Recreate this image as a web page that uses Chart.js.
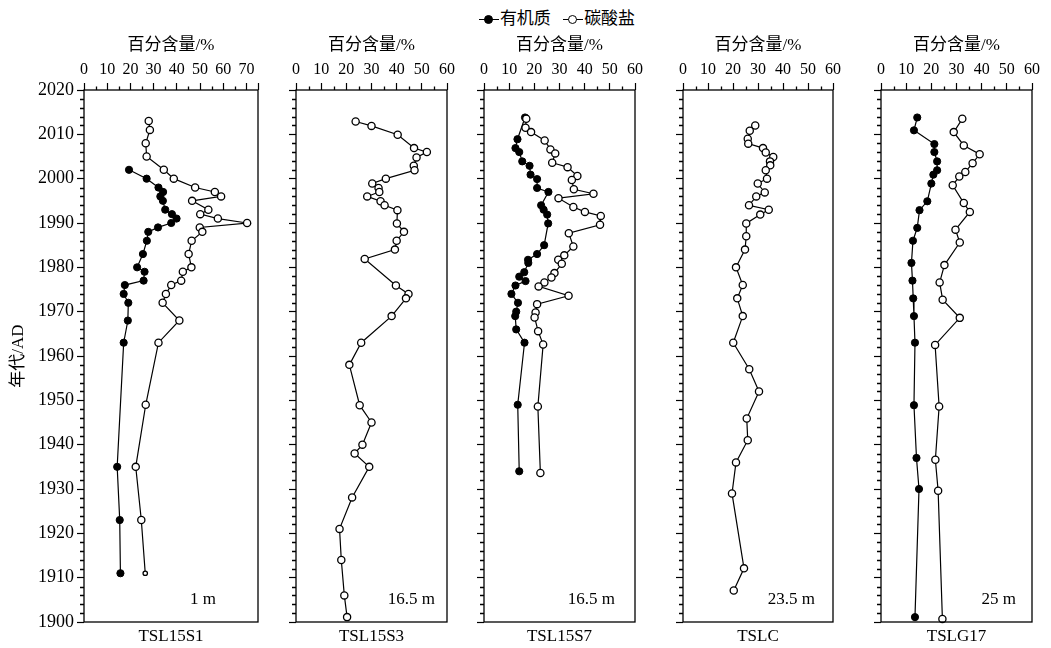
<!DOCTYPE html>
<html>
<head>
<meta charset="utf-8">
<script src="https://cdn.jsdelivr.net/npm/chart.js@4.4.0/dist/chart.umd.min.js"></script>
<style>
  body { margin: 0; background: #fff; width: 1051px; height: 648px; overflow: hidden; position: relative;
         font-family: "Liberation Serif", "Noto Sans CJK SC", serif; }
  canvas { position: absolute; top: 0; }
  #legend { position: absolute; top: 4px; left: 0; width: 1114px; text-align: center; font-size: 17px; color: #000; }
  #legend .item { margin: 0 4px; white-space: nowrap; }
  .mk { display: inline-block; position: relative; width: 20px; height: 10px; vertical-align: middle; margin-right: 1px; }
  .mk::before { content: ""; position: absolute; left: 0; right: 0; top: 4px; border-top: 1.5px solid #000; }
  .mk::after { content: ""; position: absolute; left: 5px; top: 0; width: 7px; height: 7px; border-radius: 50%;
               border: 1.3px solid #000; background: #000; }
  .mk.open::after { background: #fff; }
</style>
</head>
<body>
<div id="legend"><span class="item"><span class="mk"></span>有机质</span> <span class="item"><span class="mk open"></span>碳酸盐</span></div>
<canvas id="c0"></canvas>
<canvas id="c1"></canvas>
<canvas id="c2"></canvas>
<canvas id="c3"></canvas>
<canvas id="c4"></canvas>
<script>
// 数据 (年代 / 百分含量)
const names = ['TSL15S1', 'TSL15S3', 'TSL15S7', 'TSLC', 'TSLG17'];
const depths = ['1 m', '16.5 m', '16.5 m', '23.5 m', '25 m'];
const xMaxes = [75, 60, 60, 60, 60];
const yearTicks = [1900, 1910, 1920, 1930, 1940, 1950, 1960, 1970, 1980, 1990, 2000, 2010, 2020];

const s1OrgYear = [2002, 2000, 1998, 1997, 1996, 1995, 1993, 1992, 1991, 1990, 1989, 1988, 1986, 1983, 1980, 1979, 1977, 1976, 1974, 1972, 1968, 1963, 1935, 1923, 1911];
const s1Org = [19.4, 27.0, 32.1, 34.1, 32.9, 34.0, 35.0, 37.9, 39.9, 37.6, 31.9, 27.7, 27.1, 25.4, 22.9, 26.1, 25.7, 17.6, 17.1, 19.1, 18.9, 17.1, 14.3, 15.4, 15.7];
const s1CarbYear = [2013, 2011, 2008, 2005, 2002, 2000, 1998, 1997, 1996, 1995, 1993, 1992, 1991, 1990, 1989, 1988, 1986, 1983, 1980, 1979, 1977, 1976, 1974, 1972, 1968, 1963, 1949, 1935, 1923, 1911];
const s1Carb = [27.9, 28.4, 26.6, 27.0, 34.4, 38.7, 47.9, 56.4, 59.1, 46.6, 53.6, 50.1, 57.7, 70.3, 49.9, 51.0, 46.4, 45.1, 46.3, 42.6, 41.9, 37.6, 35.3, 33.9, 41.1, 32.1, 26.6, 22.3, 24.7, 26.4];

const s3CarbYear = [2012.9, 2011.9, 2009.9, 2006.9, 2006.0, 2004.8, 2002.9, 2001.9, 2000.0, 1998.9, 1997.9, 1997.0, 1996.0, 1994.9, 1994.0, 1992.9, 1989.9, 1988.0, 1986.0, 1984.0, 1981.9, 1975.9, 1974.0, 1973.0, 1969.0, 1963.0, 1958.0, 1948.9, 1945.0, 1940.0, 1938.0, 1935.0, 1928.1, 1921.0, 1914.0, 1906.0, 1901.1];
const s3Carb = [23.7, 30.0, 40.4, 46.9, 52.0, 47.9, 46.8, 47.1, 35.7, 30.3, 32.8, 33.1, 28.3, 33.6, 35.2, 40.3, 40.1, 42.9, 40.0, 39.3, 27.3, 39.7, 44.7, 43.7, 38.0, 25.9, 21.2, 25.3, 30.0, 26.4, 23.3, 29.1, 22.3, 17.3, 18.0, 19.2, 20.3];

const s7OrgYear = [2013.8, 2008.9, 2006.9, 2006.0, 2003.9, 2002.9, 2000.9, 1999.9, 1997.9, 1997.0, 1994.0, 1993.0, 1991.9, 1989.9, 1985.0, 1983.0, 1981.7, 1981.0, 1978.9, 1977.9, 1976.9, 1975.9, 1974.0, 1972.0, 1970.0, 1969.0, 1966.0, 1963.0, 1949.0, 1934.0];
const s7Org = [16.3, 13.3, 12.5, 14.0, 15.2, 18.1, 18.5, 21.1, 21.1, 25.6, 22.7, 23.7, 25.1, 25.5, 23.9, 21.1, 17.5, 17.6, 16.0, 14.0, 16.5, 12.5, 10.9, 13.5, 12.8, 12.4, 12.8, 16.1, 13.4, 14.0];
const s7CarbYear = [2013.5, 2011.5, 2010.5, 2008.6, 2006.6, 2005.7, 2003.6, 2002.6, 2000.6, 1999.7, 1997.6, 1996.6, 1995.6, 1993.6, 1992.5, 1991.6, 1989.6, 1987.7, 1984.7, 1982.7, 1981.7, 1980.8, 1978.7, 1977.7, 1976.6, 1975.7, 1973.6, 1971.7, 1969.8, 1968.7, 1965.6, 1962.6, 1948.6, 1933.6];
const s7Carb = [16.8, 16.5, 18.7, 24.1, 26.4, 28.3, 27.1, 33.2, 37.1, 34.9, 35.7, 43.5, 29.6, 35.5, 40.1, 46.4, 46.1, 33.7, 35.5, 31.9, 29.5, 30.9, 28.0, 26.8, 24.0, 21.7, 33.6, 21.1, 20.5, 20.1, 21.5, 23.5, 21.4, 22.4];

const cCarbYear = [2012.0, 2010.8, 2009.0, 2007.9, 2006.9, 2005.9, 2004.9, 2003.9, 2003.0, 2001.9, 2000.0, 1998.9, 1996.9, 1996.0, 1994.0, 1993.0, 1991.9, 1989.9, 1987.0, 1984.0, 1980.0, 1976.0, 1973.0, 1969.0, 1963.0, 1957.0, 1952.0, 1945.9, 1941.0, 1936.0, 1929.0, 1912.1, 1907.1];
const cCarb = [28.9, 26.7, 25.9, 26.1, 32.0, 33.1, 36.1, 34.8, 34.9, 33.1, 33.6, 29.9, 32.7, 29.3, 26.4, 34.3, 30.9, 25.3, 25.3, 24.8, 21.2, 23.9, 21.7, 23.9, 20.1, 26.5, 30.4, 25.5, 25.9, 21.2, 19.6, 24.4, 20.3];

const g17OrgYear = [2013.8, 2010.9, 2007.8, 2006.0, 2003.9, 2001.9, 2000.9, 1998.9, 1994.9, 1992.9, 1988.9, 1986.0, 1981.0, 1977.0, 1973.0, 1969.0, 1963.0, 1948.9, 1937.0, 1930.0, 1901.1];
const g17Org = [14.4, 13.1, 21.2, 21.2, 22.3, 22.3, 20.8, 20.0, 18.4, 15.3, 14.4, 12.7, 12.1, 12.5, 12.8, 13.1, 13.5, 13.1, 14.1, 15.1, 13.5];
const g17CarbYear = [2013.5, 2010.5, 2007.5, 2005.5, 2003.5, 2001.5, 2000.5, 1998.5, 1994.5, 1992.5, 1988.5, 1985.6, 1980.5, 1976.6, 1972.7, 1968.6, 1962.5, 1948.6, 1936.6, 1929.6, 1900.7];
const g17Carb = [32.3, 28.9, 32.9, 39.2, 36.4, 33.5, 31.1, 28.5, 32.9, 35.3, 29.6, 31.3, 25.2, 23.3, 24.5, 31.3, 21.5, 23.1, 21.6, 22.7, 24.4];

const orgSeries = [[s1OrgYear, s1Org], null, [s7OrgYear, s7Org], null, [g17OrgYear, g17Org]];
const carbSeries = [[s1CarbYear, s1Carb], [s3CarbYear, s3Carb], [s7CarbYear, s7Carb], [cCarbYear, cCarb], [g17CarbYear, g17Carb]];

// 版面
const plotTop = 90, plotBottom = 622, H = 648, R = 14;
const panelLeft = [84, 296, 484, 683, 881];
const panelRight = [258, 447, 635, 833, 1032];
const axisW = [84, 20, 20, 20, 20];
const depthDx = [42, 12, 20, 18, 16];

const FONT = '"Liberation Serif", "Noto Sans CJK SC", serif';

function pts(pair) {
    return pair[0].map((yr, i) => ({ x: pair[1][i], y: yr }));
}

const framePlugin = {
    id: 'frame',
    afterDraw(chart, args, opts) {
        const { ctx, chartArea: a, scales: { x, y } } = chart;
        ctx.save();
        ctx.strokeStyle = '#000';
        ctx.lineWidth = 1.3;
        ctx.strokeRect(a.left, a.top, a.right - a.left, a.bottom - a.top);
        ctx.beginPath();
        for (let v = 5; v < x.max; v += 10) {
            const px = Math.round(x.getPixelForValue(v)) + 0.5;
            ctx.moveTo(px, a.top); ctx.lineTo(px, a.top - 3.5);
        }
        for (let v = y.min + 2; v < y.max; v += 2) {
            if (v % 10 === 0) continue;
            const py = Math.round(y.getPixelForValue(v)) + 0.5;
            ctx.moveTo(a.left, py); ctx.lineTo(a.left - 4, py);
        }
        ctx.stroke();
        ctx.fillStyle = '#000';
        ctx.font = '17px ' + FONT;
        ctx.textAlign = 'right';
        ctx.textBaseline = 'middle';
        ctx.fillText(opts.depth, a.right - opts.dx, a.bottom - 22);
        ctx.restore();
    }
};

for (let i = 0; i < 5; i++) {
    const cv = document.getElementById('c' + i);
    cv.width = axisW[i] + (panelRight[i] - panelLeft[i]) + R;
    cv.height = H;
    cv.style.left = (panelLeft[i] - axisW[i]) + 'px';

    // 横轴刻度: 每10一个, 最右端也画一个刻度
    const xTicks = [];
    for (let v = 0; v <= xMaxes[i]; v += 10) xTicks.push(v);
    if (xTicks[xTicks.length - 1] !== xMaxes[i]) xTicks.push(xMaxes[i]);

    const datasets = [];
    if (carbSeries[i]) {
        const n = carbSeries[i][0].length;
        datasets.push({
            label: '碳酸盐', data: pts(carbSeries[i]),
            borderColor: '#000', borderWidth: 1.2, backgroundColor: '#fff',
            pointBackgroundColor: '#fff', pointBorderColor: '#000', pointBorderWidth: 1.3,
            pointRadius: carbSeries[i][0].map((v, k) => (i === 0 && k === n - 1) ? 2.2 : 3.6),
            clip: false
        });
    }
    if (orgSeries[i]) {
        datasets.push({
            label: '有机质', data: pts(orgSeries[i]),
            borderColor: '#000', borderWidth: 1.2, backgroundColor: '#000',
            pointBackgroundColor: '#000', pointBorderColor: '#000', pointBorderWidth: 1,
            pointRadius: 3.6, clip: false
        });
    }

    new Chart(cv, {
        type: 'line',
        data: { datasets },
        plugins: [framePlugin],
        options: {
            responsive: false,
            animation: false,
            layout: { padding: { left: 0, right: R, top: 0, bottom: 0 } },
            plugins: {
                legend: { display: false },
                tooltip: { enabled: false },
                frame: { depth: depths[i], dx: depthDx[i] }
            },
            scales: {
                x: {
                    type: 'linear', position: 'top', min: 0, max: xMaxes[i],
                    afterBuildTicks: s => { s.ticks = xTicks.map(v => ({ value: v })); },
                    ticks: {
                        autoSkip: false, maxRotation: 0, padding: 4, color: '#000',
                        font: { family: FONT, size: 16 },
                        callback: v => (v % 10 === 0 ? String(v) : '')
                    },
                    grid: { drawOnChartArea: false, drawTicks: true, tickLength: 7, tickColor: '#000', tickWidth: 1.2 },
                    border: { display: false },
                    title: { display: true, text: '百分含量/%', color: '#000', font: { family: FONT, size: 17 }, padding: { top: 35, bottom: 0 } },
                    afterFit: s => { s.height = plotTop; s.paddingLeft = 0; s.paddingRight = 0; }
                },
                xb: {
                    type: 'linear', position: 'bottom', display: true,
                    ticks: { display: false },
                    grid: { display: false, drawTicks: false },
                    border: { display: false },
                    title: { display: true, text: names[i], color: '#000', font: { family: FONT, size: 17 }, padding: { top: 0, bottom: 1 } },
                    afterFit: s => { s.height = H - plotBottom; s.paddingLeft = 0; s.paddingRight = 0; }
                },
                y: {
                    type: 'linear', position: 'left', min: 1900, max: 2020,
                    afterBuildTicks: s => { s.ticks = yearTicks.map(v => ({ value: v })); },
                    ticks: {
                        display: i === 0, padding: 3, color: '#000',
                        font: { family: FONT, size: 18 },
                        callback: v => String(v)
                    },
                    grid: { drawOnChartArea: false, drawTicks: true, tickLength: 7, tickColor: '#000', tickWidth: 1.2 },
                    border: { display: false },
                    title: { display: i === 0, text: '年代/AD', color: '#000', font: { family: FONT, size: 17 }, padding: { top: 8, bottom: 0 } },
                    afterFit: s => { s.width = axisW[i]; s.paddingTop = 0; s.paddingBottom = 0; }
                }
            }
        }
    });
}
</script>
</body>
</html>
